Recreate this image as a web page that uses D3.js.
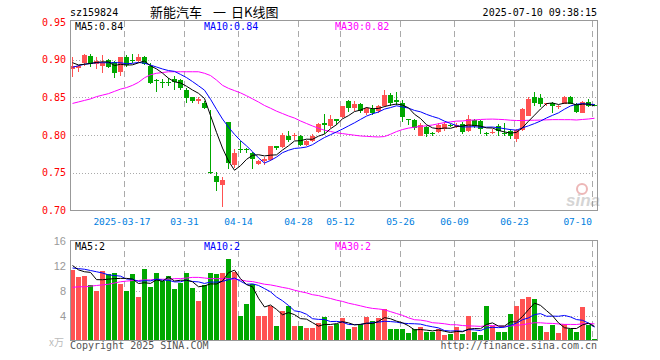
<!DOCTYPE html>
<html>
<head>
<meta charset="utf-8">
<script src="https://cdn.jsdelivr.net/npm/d3@7"></script>
<style>
  body { margin: 0; background: #fff; }
  svg { display: block; }
  text { font-family: "DejaVu Sans Mono", monospace; font-size: 10px; }
</style>
</head>
<body>
<div id="chart"></div>
<script>
// trading days shown (2025)
const dates = [
  "03-04","03-05","03-06","03-07","03-10","03-11","03-12","03-13","03-14","03-17",
  "03-18","03-19","03-20","03-21","03-24","03-25","03-26","03-27","03-28","03-31",
  "04-01","04-02","04-03","04-07","04-08","04-09","04-10","04-11","04-14","04-15",
  "04-16","04-17","04-18","04-21","04-22","04-23","04-24","04-25","04-28","04-29",
  "04-30","05-06","05-07","05-08","05-09","05-12","05-13","05-14","05-15","05-16",
  "05-19","05-20","05-21","05-22","05-23","05-26","05-27","05-28","05-29","05-30",
  "06-03","06-04","06-05","06-06","06-09","06-10","06-11","06-12","06-13","06-16",
  "06-17","06-18","06-19","06-20","06-23","06-24","06-25","06-26","06-27","06-30",
  "07-01","07-02","07-03","07-04","07-07","07-08","07-09","07-10"
];

const open = [
  .888,.889,.895,.905,.894,.892,.900,.897,.883,.903,
  .899,.899,.904,.892,.873,.871,.871,.875,.873,.860,
  .850,.846,.843,.751,.746,.734,.817,.760,.781,.781,
  .776,.762,.766,.767,.785,.784,.799,.799,.799,.787,
  .793,.804,.816,.813,.822,.824,.845,.836,.841,.829,
  .835,.831,.838,.853,.846,.842,.821,.820,.800,.811,
  .803,.805,.808,.813,.811,.815,.805,.820,.819,.803,
  .803,.812,.803,.806,.795,.807,.826,.850,.849,.842,
  .843,.837,.842,.851,.841,.830,.844,.840
];
const close = [
  .892,.892,.906,.894,.898,.896,.891,.882,.903,.892,
  .898,.904,.895,.870,.872,.870,.870,.871,.863,.850,
  .845,.848,.837,.750,.738,.741,.762,.776,.780,.780,
  .768,.766,.768,.785,.782,.800,.794,.800,.787,.792,
  .799,.815,.814,.822,.819,.838,.836,.841,.832,.836,
  .830,.838,.853,.842,.843,.823,.820,.810,.814,.802,
  .802,.814,.815,.812,.814,.805,.821,.812,.808,.802,
  .804,.805,.802,.800,.807,.835,.848,.842,.841,.843,
  .839,.838,.851,.842,.830,.844,.839,.839
];
const high = [
  .904,.893,.908,.908,.903,.906,.901,.898,.904,.906,
  .908,.907,.905,.896,.875,.875,.876,.879,.875,.862,
  .851,.850,.845,.833,.751,.744,.817,.782,.792,.783,
  .777,.767,.771,.786,.786,.803,.805,.803,.800,.793,
  .801,.816,.828,.826,.822,.839,.846,.845,.842,.837,
  .840,.840,.860,.856,.857,.846,.822,.821,.816,.812,
  .804,.816,.817,.815,.816,.817,.826,.822,.820,.804,
  .808,.815,.816,.808,.808,.836,.850,.857,.855,.843,
  .844,.840,.852,.852,.842,.845,.848,.841
];
const low = [
  .877,.884,.892,.890,.888,.883,.889,.876,.878,.890,
  .895,.897,.893,.868,.857,.863,.865,.860,.860,.843,
  .843,.841,.835,.749,.726,.705,.755,.756,.776,.776,
  .755,.761,.760,.766,.780,.783,.791,.794,.786,.785,
  .791,.803,.802,.810,.813,.823,.830,.832,.829,.827,
  .826,.829,.837,.838,.840,.818,.814,.807,.799,.797,
  .799,.803,.806,.811,.809,.801,.804,.809,.801,.799,
  .801,.799,.799,.795,.791,.806,.825,.839,.837,.838,
  .829,.834,.841,.841,.829,.829,.837,.838
];
// volume in 万
const volume = [
  11.3,10.1,10.4,8.9,8.0,11.2,10.6,10.8,9.1,8.0,
  10.7,7.0,11.4,8.6,10.8,9.6,10.4,8.2,9.2,10.8,
  8.4,6.4,8.9,10.8,10.7,10.8,13.1,10.9,4.0,5.9,
  9.1,3.9,3.9,5.6,2.4,4.8,5.6,2.3,2.4,2.0,
  2.0,2.8,3.7,2.3,2.7,3.6,1.8,2.1,2.7,3.7,
  3.2,3.6,5.1,1.8,1.8,1.9,1.2,1.8,2.1,1.3,
  1.3,1.9,0.8,1.1,2.1,1.1,4.0,1.3,0.9,5.6,
  2.3,1.4,1.4,4.2,5.6,6.6,6.9,6.6,2.4,1.4,
  2.5,1.2,2.7,1.8,1.4,5.4,2.5,0.2
];

// MA values at the left edge (they depend on days before the window)
const ma5Head  = [.896,.893,.894,.895];
const ma10Head = [.890,.892,.894,.895,.896,.896,.896,.896,.896];
const ma30Head = [.842,.844,.846,.848,.851,.853,.855,.858,.861,.863,
                  .866,.870,.876,.880,.882,.883,.884,.884,.884,.884,
                  .884,.884,.882,.879,.873,.866,.862,.859,.856];
const vma5Head  = [12.0,11.3,11.0,10.9];
const vma10Head = [11.6,11.5,11.4,11.2,11.0,10.8,10.5,10.4,10.3];
const vma30Head = [8.5,8.6,8.6,8.7,8.8,8.9,9.0,9.2,9.4,9.5,
                   9.6,9.6,9.7,9.7,9.8,9.8,9.8,9.9,9.9,10.0,
                   10.1,10.1,10.0,9.9,9.9,9.9,9.9,9.8,9.7];

const tickDates  = ["03-17","03-31","04-14","04-28","05-12","05-26","06-09","06-23","07-10"];
const tickLabels = ["2025-03-17","03-31","04-14","04-28","05-12","05-26","06-09","06-23","07-10"];
const priceTicks = [0.95, 0.90, 0.85, 0.80, 0.75, 0.70];
const volTicks = [16, 12, 8, 4];

const RED = "#ff5252", GREEN = "#00a800";

const svg = d3.select("#chart").append("svg")
  .attr("width", 660).attr("height", 360);

const left = 70, right = 597;
const x = d3.scalePoint().domain(dates).range([72, 594]);
const y = d3.scaleLinear().domain([0.70, 0.95]).range([210.5, 22]);
const vy = d3.scaleLinear().domain([0, 16]).range([340.5, 240.5]);

function movingAvg(vals, n, head) {
  return vals.map((v, i) => i < head.length ? head[i] : d3.mean(vals.slice(i - n + 1, i + 1)));
}
const ma5 = movingAvg(close, 5, ma5Head);
const ma10 = movingAvg(close, 10, ma10Head);
const ma30 = movingAvg(close, 30, ma30Head);
const vma5 = movingAvg(volume, 5, vma5Head);
const vma10 = movingAvg(volume, 10, vma10Head);
const vma30 = movingAvg(volume, 30, vma30Head);

const color = i => close[i] > open[i] ? RED : (close[i] < open[i] ? GREEN :
  (i > 0 && close[i] < close[i - 1] ? GREEN : RED));

// ---------- grid ----------
function grid(g, top, bottom, levels, scale) {
  g.selectAll(".hg").data(levels).enter().append("line")
    .attr("x1", left).attr("x2", right)
    .attr("y1", d => Math.round(scale(d)) + 0.5).attr("y2", d => Math.round(scale(d)) + 0.5)
    .attr("stroke", "#aaa").attr("stroke-dasharray", "1,2");
  g.selectAll(".vg").data(tickDates).enter().append("line")
    .attr("x1", d => x(d) - 1.5).attr("x2", d => x(d) - 1.5)
    .attr("y1", top).attr("y2", bottom)
    .attr("stroke", "#aaa").attr("stroke-dasharray", "6,4");
}
const main = svg.append("g").attr("shape-rendering", "crispEdges");
grid(main, 21, 210, [0.90, 0.85, 0.80, 0.75], y);
const vol = svg.append("g").attr("shape-rendering", "crispEdges");
grid(vol, 241, 340, [12, 8, 4], vy);

// ---------- candles ----------
const idx = d3.range(dates.length);
main.selectAll(".wick").data(idx).enter().append("line")
  .attr("x1", i => x(dates[i]) + 0.5).attr("x2", i => x(dates[i]) + 0.5)
  .attr("y1", i => y(high[i])).attr("y2", i => y(low[i]))
  .attr("stroke", color);
main.selectAll(".body").data(idx).enter().append("rect")
  .attr("x", i => x(dates[i]) - 2).attr("width", 5)
  .attr("y", i => Math.round(y(Math.max(open[i], close[i]))))
  .attr("height", i => Math.max(1, Math.round(Math.abs(y(open[i]) - y(close[i])))))
  .attr("fill", color);

// ---------- volume bars ----------
vol.selectAll(".bar").data(idx).enter().append("rect")
  .attr("x", i => x(dates[i]) - 2).attr("width", 5)
  .attr("y", i => Math.round(vy(volume[i])))
  .attr("height", i => 341 - Math.round(vy(volume[i])))
  .attr("fill", color);

// ---------- MA lines ----------
function maLine(g, vals, scale, col) {
  g.append("path").datum(vals)
    .attr("fill", "none").attr("stroke", col).attr("stroke-width", 1)
    .attr("d", d3.line().x((d, i) => x(dates[i]) + 0.5).y(d => scale(d)));
}
const lines = svg.append("g");
maLine(lines, ma30, y, "#ff00ff");
maLine(lines, ma10, y, "#0000ff");
maLine(lines, ma5, y, "#000");
maLine(lines, vma30, vy, "#ff00ff");
maLine(lines, vma10, vy, "#0000ff");
maLine(lines, vma5, vy, "#000");

// ---------- frames ----------
svg.append("rect").attr("x", left + 0.5).attr("y", 20.5).attr("width", right - left).attr("height", 190)
  .attr("fill", "none").attr("stroke", "#999").attr("shape-rendering", "crispEdges");
svg.append("rect").attr("x", left + 0.5).attr("y", 240.5).attr("width", right - left).attr("height", 100)
  .attr("fill", "none").attr("stroke", "#999").attr("shape-rendering", "crispEdges");

// ---------- axis labels ----------
svg.selectAll(".pl").data(priceTicks).enter().append("text")
  .attr("x", 66).attr("y", d => y(d) + 3.5).attr("text-anchor", "end")
  .attr("fill", "#f00").text(d => d.toFixed(2));
svg.selectAll(".vl").data(volTicks).enter().append("text")
  .attr("x", 66).attr("y", d => vy(d) + 4).attr("text-anchor", "end")
  .style("font-family", "'Liberation Sans', Arial, sans-serif").style("font-size", "11px")
  .attr("fill", "#999").text(d => d);
svg.append("text").attr("x", 49).attr("y", 346)
  .style("font-family", "'Noto Sans CJK SC', sans-serif").style("font-size", "10px")
  .attr("fill", "#bbb").text("x万");

svg.selectAll(".xl").data(tickDates).enter().append("text")
  .attr("x", (d, i) => i === 0 ? x(d) - 4 : (i === tickDates.length - 1 ? x(d) - 2 : x(d) - 1.5))
  .attr("y", 225)
  .attr("text-anchor", (d, i) => i === tickDates.length - 1 ? "end" : "middle")
  .style("font-size", "9.5px")
  .attr("fill", "#0080e0").text((d, i) => tickLabels[i]);

// ---------- titles ----------
svg.append("text").attr("x", 70).attr("y", 16).attr("fill", "#000").text("sz159824");
const titleFont = "'Noto Sans CJK SC', sans-serif";
[["新能汽车", 150], ["一", 213], ["日K线图", 231]].forEach(([t, tx]) => {
  svg.append("text").attr("x", tx).attr("y", 17)
    .style("font-family", titleFont).style("font-size", "13px")
    .attr("fill", "#000").text(t);
});
svg.append("text").attr("x", 597).attr("y", 16).attr("text-anchor", "end")
  .attr("fill", "#000").text("2025-07-10 09:38:15");

const last = dates.length - 1;
svg.append("text").attr("x", 75).attr("y", 30).attr("fill", "#000").text("MA5:" + ma5[last].toFixed(2));
svg.append("text").attr("x", 204).attr("y", 30).attr("fill", "#0000ff").text("MA10:" + ma10[last].toFixed(2));
svg.append("text").attr("x", 335).attr("y", 30).attr("fill", "#ff00ff").text("MA30:" + ma30[last].toFixed(2));
svg.append("text").attr("x", 75).attr("y", 250).attr("fill", "#000").text("MA5:" + Math.floor(vma5[last]));
svg.append("text").attr("x", 204).attr("y", 250).attr("fill", "#0000ff").text("MA10:" + Math.floor(vma10[last]));
svg.append("text").attr("x", 335).attr("y", 250).attr("fill", "#ff00ff").text("MA30:" + Math.floor(vma30[last]));

svg.append("text").attr("x", 70).attr("y", 349).attr("fill", "#555").text("Copyright 2025 SINA.COM");
svg.append("text").attr("x", 597).attr("y", 349).attr("text-anchor", "end").attr("fill", "#555")
  .text("http://finance.sina.com.cn");

// sina watermark
const wm = svg.append("g").attr("opacity", 0.35);
wm.append("circle").attr("cx", 582).attr("cy", 189).attr("r", 5)
  .attr("fill", "none").attr("stroke", "#c33").attr("stroke-width", 2);
wm.append("text").attr("x", 566).attr("y", 206)
  .style("font-family", "'Liberation Sans', Arial, sans-serif").style("font-size", "17px")
  .style("font-weight", "bold").style("font-style", "italic")
  .attr("fill", "#888").text("sina");
</script>
</body>
</html>
